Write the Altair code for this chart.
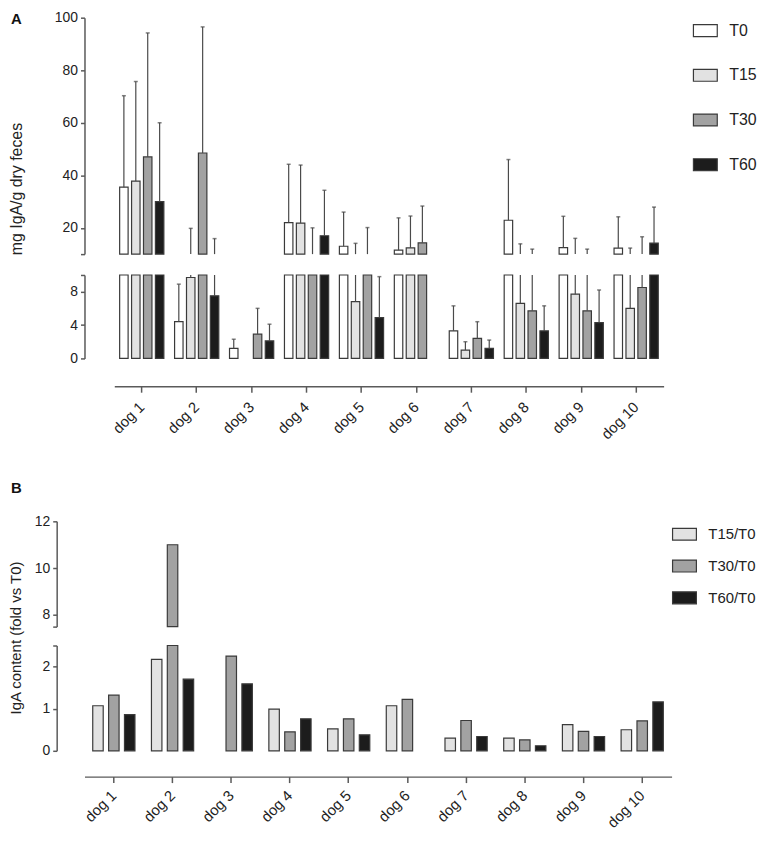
import altair as alt
import pandas as pd

# ---------------- data ----------------
dogs = ["dog 1", "dog 2", "dog 3", "dog 4", "dog 5",
        "dog 6", "dog 7", "dog 8", "dog 9", "dog 10"]
times = ["T0", "T15", "T30", "T60"]
time_colors = ["#ffffff", "#e2e2e2", "#a2a2a2", "#1c1c1c"]

# Panel A: mean and upper error bar end (mg IgA/g dry feces)
t0_mean = [35.5, 4.4, 1.2, 22.0, 13.0, 11.5, 3.3, 22.9, 12.5, 12.3]
t0_err = [70.3, 8.9, 2.3, 44.2, 26.0, 23.8, 6.3, 46.0, 24.4, 24.2]
t15_mean = [37.8, 9.7, None, 21.8, 6.8, 12.4, 1.0, 6.6, 7.7, 6.0]
t15_err = [75.7, 19.8, None, 43.9, 14.1, 24.5, 2.0, 13.9, 16.0, 12.3]
t30_mean = [47.0, 48.5, 2.9, 10.0, 10.0, 14.3, 2.4, 5.7, 5.7, 8.5]
t30_err = [94.2, 96.5, 6.0, 20.0, 20.1, 28.3, 4.4, 11.9, 11.9, 16.6]
t60_mean = [30.0, 7.5, 2.1, 17.0, 4.9, None, 1.2, 3.3, 4.3, 14.2]
t60_err = [60.0, 15.9, 4.1, 34.3, 9.8, None, 2.2, 6.3, 8.2, 27.9]

# Panel B: fold change vs T0
ratios = ["T15/T0", "T30/T0", "T60/T0"]
ratio_colors = ["#e2e2e2", "#a2a2a2", "#1c1c1c"]
r15 = [1.07, 2.17, None, 0.99, 0.52, 1.07, 0.30, 0.30, 0.62, 0.50]
r30 = [1.32, 11.0, 2.25, 0.45, 0.76, 1.22, 0.72, 0.26, 0.46, 0.71]
r60 = [0.86, 1.70, 1.59, 0.76, 0.38, None, 0.34, 0.12, 0.34, 1.16]

panel_labels = ["A", "B"]

# ---------------- tables ----------------
rows = []
for t, means, errs in zip(times, [t0_mean, t15_mean, t30_mean, t60_mean],
                          [t0_err, t15_err, t30_err, t60_err]):
    for d, m, e in zip(dogs, means, errs):
        if m is None:
            continue
        rows.append({"dog": d, "time": t, "mean": m, "err": e,
                     "top_lo": max(m, 10.0), "bot_val": min(m, 10.0),
                     "err_bot": min(e, 10.0)})
dfa = pd.DataFrame(rows)

rows = []
for r, vals in zip(ratios, [r15, r30, r60]):
    for d, v in zip(dogs, vals):
        if v is None:
            continue
        rows.append({"dog": d, "ratio": r, "fold": v, "bot_val": min(v, 2.5)})
dfb = pd.DataFrame(rows)

FONT = "Liberation Sans"
BAR_STROKE = "#3a3a3a"
ERR_COL = "#4a4a4a"


def panel_letter(txt, ypos):
    return alt.Chart(pd.DataFrame({"lab": [txt]})).mark_text(
        font=FONT, fontSize=15, fontWeight="bold", color="#111",
        align="left", baseline="middle").encode(
        text="lab:N", x=alt.value(-74), y=alt.value(ypos))


# ---------------- panel A ----------------
WA = 583
xA = alt.Scale(domain=dogs, range=[30, WA], paddingInner=0, paddingOuter=0)
xoA = alt.Scale(domain=times, paddingInner=0.29, paddingOuter=0.45)
colA = alt.Scale(domain=times, range=time_colors)
legA = alt.Legend(orient="right", offset=29, title=None,
                  symbolType="M-1,-0.5H1V0.5H-1Z", symbolSize=576,
                  symbolStrokeColor=BAR_STROKE, symbolStrokeWidth=1.2,
                  labelFontSize=16, labelOffset=11, rowPadding=23, padding=0,
                  labelColor="#222", labelFont=FONT)

top_y_axis_A = alt.Axis(values=[10, 20, 40, 60, 80, 100],
                        labelExpr="datum.value == 10 ? '' : datum.label",
                        labelOverlap=False,
                        title="mg IgA/g dry feces", titleFontSize=16,
                        titleX=-68, titleY=172, titleBaseline="middle",
                        titleFontWeight="normal")
ysA_top = alt.Scale(domain=[10, 100], nice=False, zero=False)

baseA_top = alt.Chart(dfa).encode(
    x=alt.X("dog:N", sort=dogs, scale=xA, axis=None),
    xOffset=alt.XOffset("time:N", sort=times, scale=xoA),
)
barsA_top = baseA_top.transform_filter("datum.mean > 10").mark_bar(
    stroke=BAR_STROKE, strokeWidth=1.2).encode(
    y=alt.Y("mean:Q", scale=ysA_top, axis=top_y_axis_A),
    y2=alt.datum(10),
    color=alt.Color("time:N", sort=times, scale=colA, legend=legA),
)
errA_top = baseA_top.transform_filter("datum.err > 10").mark_rule(
    color=ERR_COL, strokeWidth=1.2).encode(
    y=alt.Y("top_lo:Q", scale=ysA_top, axis=top_y_axis_A), y2="err:Q")
capA_top = baseA_top.transform_filter("datum.err > 10").mark_tick(
    color=ERR_COL, thickness=1.5, size=4, orient="horizontal").encode(
    y=alt.Y("err:Q", scale=ysA_top, axis=top_y_axis_A))

topA = alt.layer(barsA_top, errA_top, capA_top,
                 panel_letter(panel_labels[0], 1)).properties(
    width=WA, height=238)

ysA_bot = alt.Scale(domain=[0, 10], nice=False, zero=False)
bot_y_axis_A = alt.Axis(values=[0, 4, 8, 10],
                        labelExpr="datum.value == 10 ? '' : datum.label",
                        labelOverlap=False, title=None)
x_axis_A = alt.Axis(title=None, labelAngle=-45, labelAlign="right",
                    labelBaseline="middle", labelFontSize=15, labelPadding=12,
                    tickSize=6, offset=28)
baseA_bot = alt.Chart(dfa).encode(
    x=alt.X("dog:N", sort=dogs, scale=xA, axis=x_axis_A),
    xOffset=alt.XOffset("time:N", sort=times, scale=xoA),
)
barsA_bot = baseA_bot.mark_bar(stroke=BAR_STROKE, strokeWidth=1.2).encode(
    y=alt.Y("bot_val:Q", scale=ysA_bot, axis=bot_y_axis_A),
    y2=alt.datum(0),
    color=alt.Color("time:N", sort=times, scale=colA, legend=legA),
)
errA_bot = baseA_bot.transform_filter("datum.mean < 10").mark_rule(
    color=ERR_COL, strokeWidth=1.2).encode(
    y=alt.Y("mean:Q", scale=ysA_bot, axis=bot_y_axis_A), y2="err_bot:Q")
capA_bot = baseA_bot.transform_filter("datum.err <= 10").mark_tick(
    color=ERR_COL, thickness=1.5, size=4, orient="horizontal").encode(
    y=alt.Y("err:Q", scale=ysA_bot, axis=bot_y_axis_A))
botA = alt.layer(barsA_bot, errA_bot, capA_bot).properties(width=WA, height=84)

panelA = alt.vconcat(topA, botA, spacing=21, bounds="flush").resolve_scale(
    y="independent")

# ---------------- panel B ----------------
WB = 591
xB = alt.Scale(domain=dogs, paddingInner=0, paddingOuter=0)
xoB = alt.Scale(domain=ratios, paddingInner=0.34, paddingOuter=0.52)
colB = alt.Scale(domain=ratios, range=ratio_colors)
legB = alt.Legend(orient="right", offset=0, title=None,
                  symbolType="M-1,-0.5H1V0.5H-1Z", symbolSize=576,
                  symbolStrokeColor=BAR_STROKE, symbolStrokeWidth=1.2,
                  labelFontSize=15, labelOffset=11, rowPadding=10, padding=0,
                  labelColor="#222", labelFont=FONT)

ysB_top = alt.Scale(domain=[7.5, 12], nice=False, zero=False)
top_y_axis_B = alt.Axis(values=[7.5, 8, 10, 12],
                        labelExpr="datum.value == 7.5 ? '' : format(datum.value, '~g')",
                        labelOverlap=False,
                        title="IgA content (fold vs T0)", titleFontSize=15,
                        titleX=-41, titleY=117, titleBaseline="middle",
                        titleFontWeight="normal", offset=28)
barsB_top = alt.Chart(dfb).transform_filter("datum.fold > 7.5").mark_bar(
    stroke=BAR_STROKE, strokeWidth=1.2).encode(
    x=alt.X("dog:N", sort=dogs, scale=xB, axis=None),
    xOffset=alt.XOffset("ratio:N", sort=ratios, scale=xoB),
    y=alt.Y("fold:Q", scale=ysB_top, axis=top_y_axis_B),
    y2=alt.datum(7.5),
    color=alt.Color("ratio:N", sort=ratios, scale=colB, legend=legB),
)
topB = alt.layer(barsB_top, panel_letter(panel_labels[1], -34)).properties(
    width=WB, height=106)

ysB_bot = alt.Scale(domain=[0, 2.5], nice=False, zero=False)
bot_y_axis_B = alt.Axis(values=[0, 1, 2, 2.5],
                        labelExpr="datum.value == 2.5 ? '' : format(datum.value, '~g')",
                        labelOverlap=False, title=None, offset=28)
x_axis_B = alt.Axis(title=None, labelAngle=-45, labelAlign="right",
                    labelBaseline="middle", labelFontSize=15, labelPadding=10,
                    tickSize=6, offset=26)
botB = alt.Chart(dfb).mark_bar(stroke=BAR_STROKE, strokeWidth=1.2).encode(
    x=alt.X("dog:N", sort=dogs, scale=xB, axis=x_axis_B),
    xOffset=alt.XOffset("ratio:N", sort=ratios, scale=xoB),
    y=alt.Y("bot_val:Q", scale=ysB_bot, axis=bot_y_axis_B),
    y2=alt.datum(0),
    color=alt.Color("ratio:N", sort=ratios, scale=colB, legend=legB),
).properties(width=WB, height=106)

panelB = alt.vconcat(topB, botB, spacing=19, bounds="flush").resolve_scale(
    y="independent")

# ---------------- assemble ----------------
chart = alt.vconcat(panelA, panelB, spacing=38).resolve_scale(
    x="independent", xOffset="independent", color="independent",
    y="independent"
).properties(padding=0).configure_view(stroke=None).configure_axis(
    labelFont=FONT, titleFont=FONT, labelFontSize=14, labelColor="#222",
    titleColor="#222", domainColor="#5a5a5a", tickColor="#5a5a5a",
    domainWidth=1.5, tickWidth=1.5, tickSize=4, labelPadding=3, grid=False
)

chart.save("out.html", embed_options={"renderer": "svg", "actions": False})
